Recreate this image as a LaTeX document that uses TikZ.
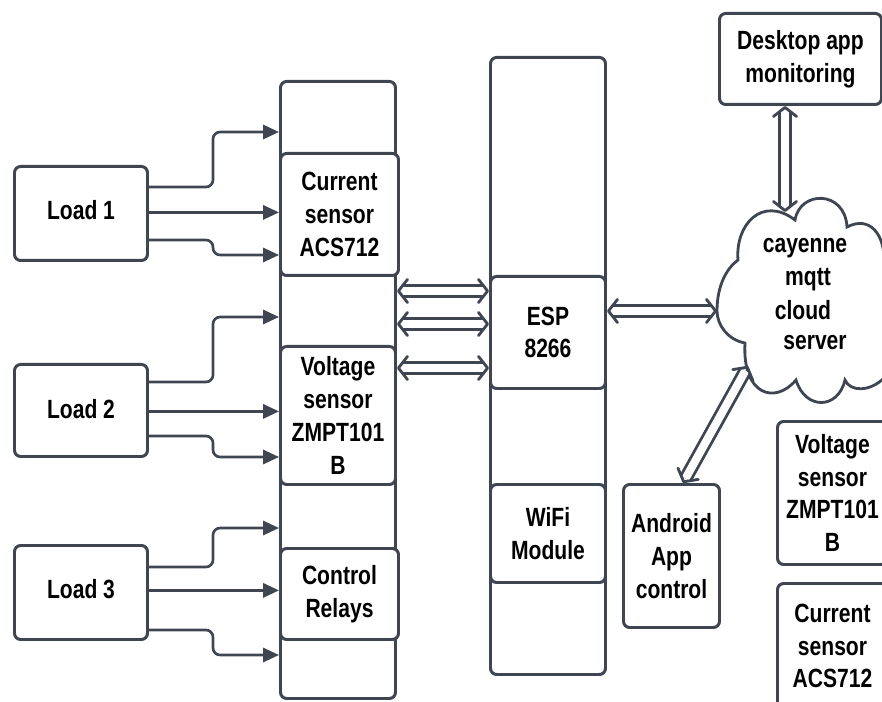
\documentclass[tikz,border=0pt]{standalone}
\usepackage{fontspec}
\setmainfont[FakeStretch=0.8]{Liberation Sans}
\usetikzlibrary{positioning, arrows.meta, calc}
\definecolor{linedark}{HTML}{3F4652}
\pgfdeclarearrow{
  name=ChevronHead,
  setup code={
    \pgfarrowssettipend{0pt}
    \pgfarrowssetlineend{-3pt}
    \pgfarrowssetvisualbackend{-6pt}
    \pgfarrowssetbackend{-6pt}
  },
  drawing code={
    \pgfsetlinewidth{1.6pt}
    \pgfsetroundjoin
    \pgfsetroundcap
    \pgfpathmoveto{\pgfqpoint{-6pt}{6.6pt}}
    \pgfpathlineto{\pgfqpoint{-0.8pt}{0pt}}
    \pgfpathlineto{\pgfqpoint{-6pt}{-6.6pt}}
    \pgfusepathqstroke
  }
}
\tikzset{
  blockbox/.style={draw=linedark, line width=1.7pt, rounded corners=3.5pt, fill=white, align=center, font=\bfseries\fontsize{15}{18.7}\selectfont, text=black, anchor=north west, inner sep=0pt},
  elbow/.style={draw=linedark, line width=1.5pt, rounded corners=4pt, -{Triangle[length=9pt,width=8pt]}},
  dblarrow/.style={draw=linedark, line width=1.6pt, double=white, double distance=4.6pt, {ChevronHead}-{ChevronHead}},
  cloudtext/.style={font=\bfseries\fontsize{15}{18.7}\selectfont, inner sep=0pt}
}
\begin{document}
\begin{tikzpicture}[x=0.02cm, y=-0.02cm]
  \useasboundingbox (0,0) rectangle (882,702);
  \clip (0,0) rectangle (882,702);
  % tall carrier boxes
  \node[blockbox, minimum width=115*0.02cm, minimum height=617*0.02cm] (sensorbus) at (279,80) {};
  \node[blockbox, minimum width=115*0.02cm, minimum height=617*0.02cm] (controller) at (489,56) {};
  % loads
  \node[blockbox, text depth=4pt, minimum width=133*0.02cm, minimum height=94*0.02cm] (load1) at (13,165) {Load 1};
  \node[blockbox, text depth=2pt, minimum width=133*0.02cm, minimum height=92*0.02cm] (load2) at (13,363) {Load 2};
  \node[blockbox, text depth=4pt, minimum width=133*0.02cm, minimum height=94*0.02cm] (load3) at (13,544) {Load 3};
  % sensors and relays
  \node[blockbox, minimum width=118*0.02cm, minimum height=122*0.02cm] (current) at (279,152) {Current\\sensor\\ACS712};
  \node[blockbox, minimum width=115*0.02cm, minimum height=138*0.02cm] (voltage) at (279,345) {Voltage\\sensor\\ZMPT101\\B};
  \node[blockbox, minimum width=118*0.02cm, minimum height=91*0.02cm] (relays) at (279,547) {Control\\Relays};
  % controller parts
  \node[blockbox, minimum width=115*0.02cm, minimum height=112*0.02cm] (esp) at (489,275) {ESP\\8266};
  \node[blockbox, minimum width=115*0.02cm, minimum height=98*0.02cm] (wifi) at (489,483) {WiFi\\Module};
  % right column
  \node[blockbox, minimum width=162*0.02cm, minimum height=91*0.02cm] (desktop) at (718,12) {Desktop app\\monitoring};
  \node[blockbox, minimum width=96*0.02cm, minimum height=143*0.02cm] (android) at (622,483) {Android\\App\\control};
  \node[blockbox, minimum width=110*0.02cm, minimum height=143*0.02cm] (voltageb) at (776,420) {Voltage\\sensor\\ZMPT101\\B};
  \node[blockbox, minimum width=110*0.02cm, minimum height=125*0.02cm] (currentb) at (776,582) {Current\\sensor\\ACS712};
  % cloud
  \draw[draw=linedark, line width=1.6pt, fill=white]
    (717,311) .. controls (717,285) and (727,268) .. (738,260)
    .. controls (735,225) and (762,195) .. (795,220)
    .. controls (800,190) and (845,190) .. (847,227)
    .. controls (870,215) and (885,235) .. (884,262)
    -- (884,378)
    .. controls (870,392) and (850,392) .. (845,380)
    .. controls (838,410) and (805,410) .. (796,380)
    .. controls (775,405) and (742,395) .. (745,343)
    .. controls (728,340) and (717,325) .. (717,311) -- cycle;
  \node[cloudtext] (cloudl1) at (805,248) {cayenne};
  \node[cloudtext] (cloudl2) at (808,280) {mqtt};
  \node[cloudtext] (cloudl3) at (803,310) {cloud};
  \node[cloudtext] (cloudl4) at (815,343) {server};
  \coordinate (cloudtop) at (785,212);
  \coordinate (cloudleft) at (717,311);
  \coordinate (cloudlow) at (748,366);
  \coordinate (androidtop) at (683,483);
  % load arrows
  \foreach \load/\topy/\outa/\midy/\outb/\lowy in {load1/132/187/212.4/240/255, load2/317/382/411.4/436/457, load3/528/567/590.4/630/655} {
    \coordinate (a) at (\load.east |- 0,\outa);
    \coordinate (b) at (\load.east |- 0,\outb);
    \draw[elbow] (a) -- (213,\outa) -- (213,\topy) -- (sensorbus.west |- 0,\topy);
    \draw[elbow] (\load.east |- 0,\midy) -- (sensorbus.west |- 0,\midy);
    \draw[elbow] (b) -- (213,\outb) -- (213,\lowy) -- (sensorbus.west |- 0,\lowy);
  }
  % bus arrows
  \foreach \busy in {291,324,368} {
    \draw[dblarrow] (sensorbus.east |- 0,\busy) -- (controller.west |- 0,\busy);
  }
  \draw[dblarrow] (esp.east |- 0,311) -- (cloudleft);
  \draw[dblarrow] (desktop.south -| cloudtop) -- (cloudtop);
  \draw[dblarrow] (androidtop) -- (cloudlow);
\end{tikzpicture}
\end{document}
